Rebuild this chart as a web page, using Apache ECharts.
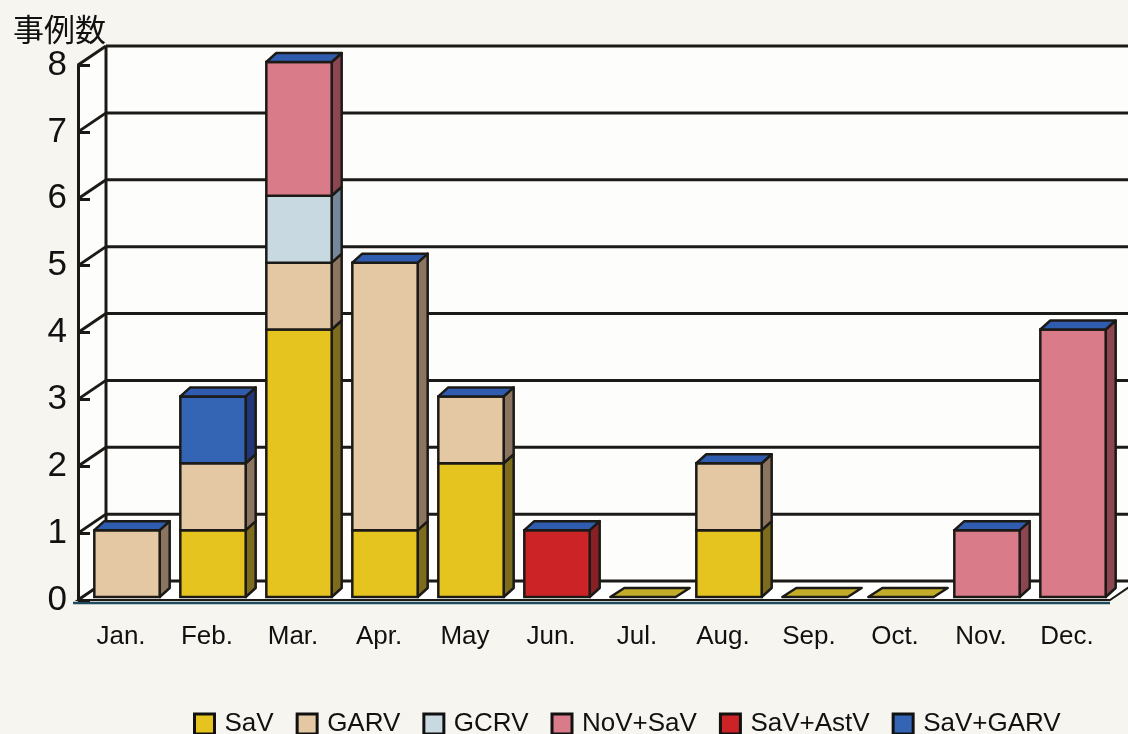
<!DOCTYPE html>
<html><head><meta charset="utf-8">
<script src="https://cdn.jsdelivr.net/npm/echarts@6/dist/echarts.min.js"></script>
<style>html,body{margin:0;padding:0;background:#f6f5ef}#c{width:1128px;height:734px}</style>
</head><body><div id="c"></div>
<script>
// ---- data ----
const months = ['Jan.','Feb.','Mar.','Apr.','May','Jun.','Jul.','Aug.','Sep.','Oct.','Nov.','Dec.'];
const seriesNames = ['SaV','GARV','GCRV','NoV+SaV','SaV+AstV','SaV+GARV'];
const SaV      = [0,1,4,1,2,0,0,1,0,0,0,0];
const GARV     = [1,1,1,4,1,0,0,1,0,0,0,0];
const GCRV     = [0,0,1,0,0,0,0,0,0,0,0,0];
const NoV_SaV  = [0,0,2,0,0,0,0,0,0,0,1,4];
const SaV_AstV = [0,0,0,0,0,1,0,0,0,0,0,0];
const SaV_GARV = [0,1,0,0,0,0,0,0,0,0,0,0];
const yTicks   = [0,1,2,3,4,5,6,7,8];

// ---- style ----
const values = [SaV, GARV, GCRV, NoV_SaV, SaV_AstV, SaV_GARV];
const faceColors = ['#e6c41f','#e4c8a3','#c9d9e2','#d97b88','#cc2426','#3465b4'];
const sideColors = ['#7d6b1e','#8b7561','#75879a','#8c4652','#872124','#223779'];
const capColor = '#2f5cae';
const zeroCapColor = '#c2ac2a';
const OUT = '#1c1a17';
const WALL_DX = 28, WALL_DY = -19;
const SHIFT_X = 6, SHIFT_Y = -3;
const SIDE_DX = 10, SIDE_DY = -9;
const BAR_FRAC = 0.76;

// stacked ranges
const bases = months.map(() => 0);
const stacked = values.map(arr => arr.map((v, i) => {
  const b = bases[i]; bases[i] += v; return [i, b, b + v];
}));
const totals = bases.slice();

function segRender(sIdx) {
  return function (params, api) {
    const i = api.value(0), b = api.value(1), t = api.value(2);
    if (t <= b) return null;
    const band = api.size([1, 0])[0];
    const w = band * BAR_FRAC;
    const pb = api.coord([i, b]), pt = api.coord([i, t]);
    const x0 = pb[0] - w / 2 + SHIFT_X, x1 = x0 + w;
    const yb = pb[1] + SHIFT_Y, yt = pt[1] + SHIFT_Y;
    return {
      type: 'group', children: [
        { type: 'polygon', shape: { points: [[x1, yt], [x1 + SIDE_DX, yt + SIDE_DY], [x1 + SIDE_DX, yb + SIDE_DY], [x1, yb]] },
          style: { fill: sideColors[sIdx], stroke: OUT, lineWidth: 2.5, lineJoin: 'round' } },
        { type: 'rect', shape: { x: x0, y: yt, width: w, height: yb - yt },
          style: { fill: faceColors[sIdx], stroke: OUT, lineWidth: 2.5 } }
      ]
    };
  };
}

function capRender(params, api) {
  const i = api.value(0), t = api.value(1);
  const band = api.size([1, 0])[0];
  const w = band * BAR_FRAC;
  const p = api.coord([i, t]);
  const x0 = p[0] - w / 2 + SHIFT_X, x1 = x0 + w, y = p[1] + SHIFT_Y;
  const zero = t === 0;
  const dx = zero ? SIDE_DX * 1.4 : SIDE_DX, dy = SIDE_DY;
  return { type: 'polygon', shape: { points: [[x0, y], [x0 + dx, y + dy], [x1 + dx, y + dy], [x1, y]] },
    style: { fill: zero ? zeroCapColor : capColor, stroke: OUT, lineWidth: 2.5, lineJoin: 'round' } };
}

function wallRender(params, api) {
  const cs = params.coordSys;
  const x0 = cs.x, x1 = cs.x + cs.width;
  const yTop = cs.y, yBot = cs.y + cs.height;
  const ch = [];
  ch.push({ type: 'rect', shape: { x: x0 + WALL_DX, y: yTop + WALL_DY, width: cs.width + 40, height: cs.height },
    style: { fill: '#fdfdfb' } });
  ch.push({ type: 'polygon', shape: { points: [[x0, yTop], [x0 + WALL_DX, yTop + WALL_DY], [x0 + WALL_DX, yBot + WALL_DY], [x0, yBot]] },
    style: { fill: '#fdfdfb' } });
  ch.push({ type: 'polygon', shape: { points: [[x0, yBot], [x0 + WALL_DX, yBot + WALL_DY], [x1 + WALL_DX, yBot + WALL_DY], [x1, yBot]] },
    style: { fill: '#ffffff', stroke: OUT, lineWidth: 2 } });
  yTicks.forEach(v => {
    const y = api.coord([0, v])[1];
    ch.push({ type: 'line', shape: { x1: x0 + WALL_DX, y1: y + WALL_DY, x2: x1 + WALL_DX + 40, y2: y + WALL_DY },
      style: { stroke: OUT, lineWidth: 3 } });
    ch.push({ type: 'line', shape: { x1: x0, y1: y, x2: x0 + WALL_DX, y2: y + WALL_DY },
      style: { stroke: OUT, lineWidth: 3 } });
  });
  ch.push({ type: 'line', shape: { x1: x0 + WALL_DX, y1: yTop + WALL_DY, x2: x0 + WALL_DX, y2: yBot + WALL_DY },
    style: { stroke: OUT, lineWidth: 3 } });
  ch.push({ type: 'line', shape: { x1: x0 - 5, y1: yBot + 3, x2: x1, y2: yBot + 3 },
    style: { stroke: '#1d4a5c', lineWidth: 2.5 } });
  return { type: 'group', children: ch };
}

const chart = echarts.init(document.getElementById('c'), null, { renderer: 'canvas' });
const series = [{
  type: 'custom', name: 'walls', silent: true, clip: false, z: 0,
  data: [[0, 0]], renderItem: wallRender
}];
values.forEach((arr, s) => {
  series.push({
    type: 'custom', name: seriesNames[s], clip: false, z: 2,
    itemStyle: { color: faceColors[s], borderColor: OUT, borderWidth: 3 },
    encode: { x: 0, y: [1, 2] },
    data: stacked[s], renderItem: segRender(s)
  });
});
series.push({
  type: 'custom', name: 'caps', silent: true, clip: false, z: 3,
  encode: { x: 0, y: 1 },
  data: totals.map((t, i) => [i, t]), renderItem: capRender
});

chart.setOption({
  backgroundColor: '#f6f5ef',
  animation: false,
  title: { text: '事例数', left: 8, top: 9,
    textStyle: { fontFamily: 'Noto Sans CJK JP', fontSize: 31, fontWeight: 'normal', color: '#111' } },
  grid: { left: 78, right: 18, top: 65, bottom: 134 },
  xAxis: {
    type: 'category', data: months,
    axisLine: { show: false }, axisTick: { show: false },
    axisLabel: { margin: 24, fontFamily: 'Liberation Sans', fontSize: 26, color: '#111' },
    splitLine: { show: false }
  },
  yAxis: {
    type: 'value', min: 0, max: 8, interval: 1,
    axisLine: { show: true, lineStyle: { color: OUT, width: 3 } },
    axisTick: { show: true, inside: true, length: 12, lineStyle: { color: OUT, width: 3 } },
    axisLabel: { margin: 11, fontFamily: 'Liberation Sans', fontSize: 35, color: '#111' },
    splitLine: { show: false }
  },
  legend: {
    data: seriesNames, left: 188, top: 706,
    itemWidth: 20, itemHeight: 20, itemGap: 22,
    icon: 'rect',
    itemStyle: { borderColor: '#111', borderWidth: 3 },
    textStyle: { fontFamily: 'Liberation Sans', fontSize: 26, color: '#111', padding: [0, 0, 0, 5] }
  },
  series: series
});
</script>
</body></html>
